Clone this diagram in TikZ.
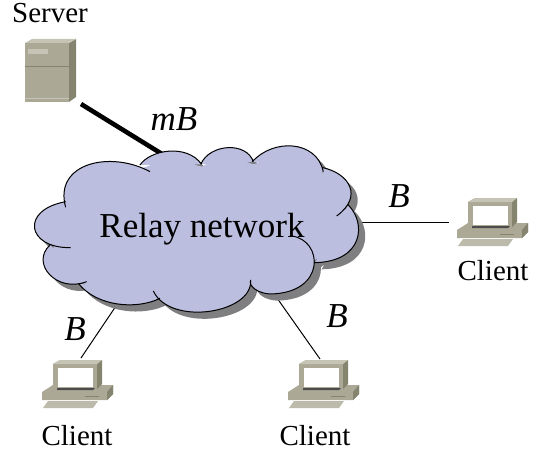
\documentclass[tikz,border=0pt]{standalone}
\usepackage{fontspec}
\setmainfont{Liberation Serif}
\definecolor{cloudblue}{HTML}{BBBEDF}
\definecolor{cloudshade}{HTML}{7F7F82}
\definecolor{boxfront}{HTML}{ABA995}
\definecolor{boxside}{HTML}{85846F}
\definecolor{boxtop}{HTML}{C6C4B4}
\newcommand{\cloudlobes}{
    (137,232) .. controls (100,100) and (270,60) .. (390,125)
    (360,105) .. controls (390,60) and (500,40) .. (545,103)
    (542,103) .. controls (570,40) and (680,35) .. (700,95)
    (697,95) .. controls (760,25) and (890,30) .. (910,125)
    (905,112) .. controls (990,130) and (1030,200) .. (950,258)
    (985,225) .. controls (1040,280) and (1030,395) .. (885,398)
    (815,318) .. controls (910,330) and (920,490) .. (750,492) .. controls (715,490) and (685,470) .. (692,450)
    (692,450) .. controls (700,550) and (450,590) .. (400,483)
    (420,505) .. controls (350,540) and (230,530) .. (175,460)
    (200,455) .. controls (110,490) and (30,400) .. (90,345)
    (152,353) .. controls (20,355) and (0,240) .. (137,215)
}
\newcommand{\cloudcore}{
    (250,120) -- (365,115) -- (450,85) -- (545,110) -- (620,75) -- (700,103) -- (800,75) -- (905,125) -- (950,180) -- (975,235) -- (980,310) -- (885,390) -- (830,440) -- (692,450) -- (550,530) -- (422,506) -- (340,505) -- (250,490) -- (210,472) -- (188,458) -- (110,400) -- (100,345) -- (80,280) -- (140,225) -- cycle
}
\begin{document}
\begin{tikzpicture}[
        x=1pt, y=-1pt,
        label/.style={inner sep=0pt, anchor=base, font=\fontsize{29}{29}\selectfont},
        rate/.style={inner sep=0pt, anchor=base, font=\fontsize{35}{35}\selectfont\itshape},
        link/.style={line width=1pt},
        client/.pic={
            \fill[boxfront] (27,60) -- (38,53) -- (98,53) -- (98,62) -- (92,68) -- (27,68) -- cycle;
            \fill[boxside] (92,60) -- (98,53) -- (98,62) -- (92,68) -- cycle;
            \fill[boxfront!80] (33,69) -- (83,69) -- (78,76) -- (28,76) -- cycle;
            \fill[boxfront] (38,32) -- (45,28) -- (87,28) -- (82,33) -- (82,57) -- (38,57) -- cycle;
            \fill[boxside] (82,32) -- (87,28) -- (87,52) -- (82,57) -- cycle;
            \fill[boxtop] (38,32) -- (45,28) -- (87,28) -- (82,32) -- cycle;
            \fill[white] (43,36) rectangle (78,55);
            \fill[black!70] (42,56) -- (80,56) -- (78,58) -- (42,58) -- cycle;
            \draw[boxside] (70,64) -- (84,64);
        },
    ]
    \useasboundingbox (0,0) rectangle (544,452);

    % server
    \fill[boxfront] (25,43) rectangle (69,102);
    \fill[boxside] (69,43) -- (76,39) -- (76,97) -- (69,102) -- cycle;
    \fill[boxtop] (25,43) -- (32,39) -- (76,39) -- (69,43) -- cycle;
    \fill[boxtop] (28,49) rectangle (48,54);
    \draw[boxside] (25,66) -- (69,66);
    \draw[boxtop] (25,98) -- (69,98);

    % connectors, the cloud goes over their ends
    \coordinate (serverport) at (81,104);
    \coordinate (cloudtop) at (162,154);
    \coordinate (cloudright) at (356,222);
    \coordinate (clientport1) at (449,222);
    \coordinate (cloudleft) at (116,306);
    \coordinate (clientport2) at (81,358);
    \coordinate (cloudbottom) at (277,298);
    \coordinate (clientport3) at (320,359);

    \draw[line width=4.6pt] (serverport) -- (cloudtop);
    \draw[link] (cloudright) -- (clientport1);
    \draw[link] (cloudleft) -- (clientport2);
    \draw[link] (cloudbottom) -- (clientport3);

    % cloud
    \begin{scope}[shift={(20,130)}, x=0.3333pt, y=-0.3333pt]
        \begin{scope}[shift={(20,20)}]
            \fill[cloudshade] \cloudlobes \cloudcore;
        \end{scope}
        \fill[cloudblue] \cloudlobes \cloudcore;
        \draw[line width=1pt] \cloudlobes;
    \end{scope}

    \path (430,170) pic {client};
    \path (15,332) pic {client};
    \path (261,332) pic {client};

    \node[label] (serverlabel) at (50,23) {Server};
    \node[label, font=\fontsize{35}{35}\selectfont] (relay) at (202,237) {Relay network};
    \node[label] (client1) at (493,280) {Client};
    \node[label] (client2) at (77,445) {Client};
    \node[label] (client3) at (315,445) {Client};
    \node[rate] (ratem) at (174,131) {mB};
    \node[rate] (rate1) at (399,207) {B};
    \node[rate] (rate2) at (75,340) {B};
    \node[rate] (rate3) at (337,327) {B};
\end{tikzpicture}
\end{document}
